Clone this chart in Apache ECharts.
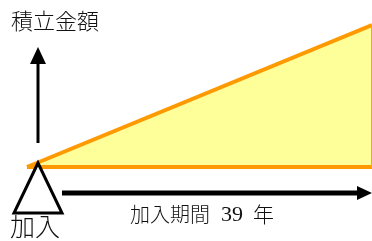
<!DOCTYPE html>
<html>
<head>
<meta charset="utf-8">
<script src="https://cdn.jsdelivr.net/npm/echarts@6/dist/echarts.min.js"></script>
<style>
  html, body { margin: 0; padding: 0; background: #fff; }
  #chart { width: 372px; height: 241px; }
</style>
</head>
<body>
<div id="chart"></div>
<script>
// 加入から39年間の積立イメージ
const years = [0, 39]
const amount = [0, 100]
const yAxisLabel = '積立金額'
const startLabel = '加入'
const periodLabel = ['加入期間', '39', '年']

const font = '"Noto Sans CJK JP", sans-serif'
const orange = '#FF9900'
const myChart = echarts.init(document.getElementById('chart'))

myChart.setOption({
  animation: false,
  grid: { left: 27, right: 0, top: 25, bottom: 74 },
  xAxis: { type: 'value', min: 0, max: 39, show: false },
  yAxis: { type: 'value', min: 0, max: 100, show: false },
  series: [
    {
      // 積立金額の増加(面)
      type: 'line',
      data: years.map((y, i) => [y, amount[i]]),
      symbol: 'none',
      clip: false,
      lineStyle: { color: orange, width: 4 },
      areaStyle: { color: '#FFFF99', opacity: 1 }
    },
    {
      // 基準線
      type: 'line',
      data: years.map(y => [y, 0]),
      symbol: 'none',
      clip: false,
      lineStyle: { color: orange, width: 4 }
    },
    {
      // 右端
      type: 'line',
      data: amount.map(a => [years[1], a]),
      symbol: 'none',
      clip: false,
      lineStyle: { color: '#FFA31A', width: 2 }
    }
  ]
})

// 注記(矢印・三角・文字)は原点を基準に配置
const o = myChart.convertToPixel({ gridIndex: 0 }, [0, 0])
const ox = o[0] + 11
const oy = o[1]
const ink = '#111'

myChart.setOption({
  graphic: [
    // 縦矢印
    { type: 'line', shape: { x1: ox, y1: oy - 24, x2: ox, y2: oy - 106 }, style: { stroke: '#000', lineWidth: 3 } },
    { type: 'polygon', shape: { points: [[ox, oy - 120], [ox - 8, oy - 103], [ox + 8, oy - 103]] }, style: { fill: '#000' } },
    // 加入の三角
    { type: 'polygon', z: 10, shape: { points: [[ox, oy - 4], [ox - 24, oy + 46], [ox + 24, oy + 46]] },
      style: { fill: '#fff', stroke: '#000', lineWidth: 3, lineJoin: 'miter' } },
    // 横矢印
    { type: 'line', shape: { x1: ox + 24, y1: oy + 26, x2: 360, y2: oy + 26 }, style: { stroke: '#000', lineWidth: 5 } },
    { type: 'polygon', shape: { points: [[372, oy + 26], [357, oy + 19], [357, oy + 33]] }, style: { fill: '#000' } },
    // 文字
    { type: 'text', left: 11, top: 10, style: { text: yAxisLabel, font: '300 22px ' + font, fill: ink } },
    { type: 'text', left: 10, top: 214, style: { text: startLabel, font: '300 25px ' + font, fill: ink } },
    { type: 'text', left: 130, top: 204, style: { text: periodLabel[0], font: '300 20px ' + font, fill: ink } },
    { type: 'text', left: 221, top: 204, style: { text: periodLabel[1], font: '22px "Liberation Serif", serif', fill: ink } },
    { type: 'text', left: 253, top: 204, style: { text: periodLabel[2], font: '300 21px ' + font, fill: ink } }
  ]
})
</script>
</body>
</html>
